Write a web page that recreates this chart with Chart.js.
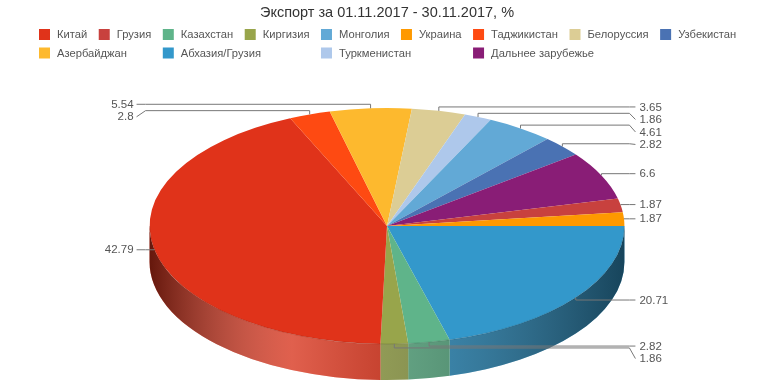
<!DOCTYPE html>
<html>
<head>
<meta charset="utf-8">
<script src="https://cdn.jsdelivr.net/npm/chart.js@4.4.1/dist/chart.umd.min.js"></script>
<style>
  html, body { margin: 0; padding: 0; background: #fff; }
</style>
</head>
<body>
<canvas id="pie" width="774" height="387"></canvas>
<script>
// ── data (legend order) ─────────────────────────────────────────
const countries = ['Китай', 'Грузия', 'Казахстан', 'Киргизия', 'Монголия', 'Украина',
                   'Таджикистан', 'Белоруссия', 'Узбекистан', 'Азербайджан',
                   'Абхазия/Грузия', 'Туркменистан', 'Дальнее зарубежье'];
const shares    = [42.79, 1.87, 2.82, 1.86, 4.61, 1.87, 2.8, 3.65, 2.82, 5.54, 20.71, 1.86, 6.6];
const colors    = ['#e0331a', '#c8413e', '#5fb48a', '#98a54b', '#62a9d6', '#fe9900',
                   '#fe4a12', '#dccd95', '#4a72b3', '#fdb92e', '#3398cb', '#aec8eb', '#891d76'];

// slices clockwise starting at 3 o'clock
const sliceOrder = ['Абхазия/Грузия', 'Казахстан', 'Киргизия', 'Китай', 'Таджикистан',
                    'Азербайджан', 'Белоруссия', 'Туркменистан', 'Монголия', 'Узбекистан',
                    'Дальнее зарубежье', 'Грузия', 'Украина'];

const idx         = sliceOrder.map(n => countries.indexOf(n));
const sliceData   = idx.map(i => shares[i]);
const sliceColors = idx.map(i => colors[i]);

const FONT  = '"Liberation Sans", Arial, sans-serif';
const TILT  = 0.497;   // ry / rx of the top face
const DEPTH = 36;      // height of the side wall

// ══════════════════════════════════════════════════════════════════
//  3D look: side walls + flattened top face + value labels
// ══════════════════════════════════════════════════════════════════
const pie3d = {
  id: 'pie3d',
  beforeDatasetsDraw(chart) {
    const arcs = chart.getDatasetMeta(0).data;
    const { x, y, outerRadius: r } = arcs[0];
    const rx = r / TILT, ry = r;
    const c = chart.ctx;

    const g = c.createLinearGradient(x - rx, 0, x + rx, 0);
    g.addColorStop(0,    'rgba(0,0,0,0.55)');
    g.addColorStop(0.3,  'rgba(224,224,224,0.26)');
    g.addColorStop(0.48, 'rgba(123,123,123,0.24)');
    g.addColorStop(0.63, 'rgba(75,75,75,0.29)');
    g.addColorStop(1,    'rgba(0,0,0,0.55)');

    arcs.forEach((a, i) => {
      const s = Math.max(a.startAngle, 0);
      const e = Math.min(a.endAngle, Math.PI);
      if (e <= s) return;
      c.beginPath();
      c.ellipse(x, y, rx, ry, 0, s, e);
      c.ellipse(x, y + DEPTH, rx, ry, 0, e, s, true);
      c.closePath();
      c.fillStyle = sliceColors[i];
      c.fill();
      c.fillStyle = g;
      c.fill();
    });

    c.save();
    c.translate(x, y);
    c.scale(1 / TILT, 1);
    c.translate(-x, -y);
  },
  afterDatasetsDraw(chart) {
    const c = chart.ctx;
    c.restore();

    const arcs = chart.getDatasetMeta(0).data;
    const { x, y, outerRadius: r } = arcs[0];
    const rx = r / TILT, ry = r;

    // front rim
    c.beginPath();
    c.ellipse(x, y, rx, ry, 0, 0, Math.PI);
    c.strokeStyle = 'rgba(0,0,0,0.12)';
    c.lineWidth = 1;
    c.stroke();

    // labels
    const colR = x + rx + 15, colL = x - rx - 16;
    const items = arcs.map((a, i) => {
      const mid = (a.startAngle + a.endAngle) / 2;
      const cos = Math.cos(mid), sin = Math.sin(mid);
      const ax = x + rx * cos, ay = y + ry * sin;
      const ty = ay + 4 * sin;
      return { ax, ay, ty, ly: ty, right: cos >= 0, text: String(sliceData[i]) };
    });
    [true, false].forEach(side => {
      const list = items.filter(it => it.right === side).sort((p, q) => p.ty - q.ty);
      let prev = -Infinity;
      list.forEach(it => { it.ly = Math.max(it.ty, prev + 12.5); prev = it.ly; });
    });

    c.strokeStyle = '#777';
    c.fillStyle = '#555';
    c.font = '11.5px ' + FONT;
    c.textBaseline = 'middle';
    items.forEach(it => {
      c.beginPath();
      c.moveTo(it.ax, it.ay);
      c.lineTo(it.ax, it.ty);
      if (it.right) {
        c.lineTo(colR - 10, it.ty);
        c.lineTo(colR - 4, it.ly);
      } else {
        c.lineTo(colL + 12, it.ty);
        c.lineTo(colL + 3, it.ly);
      }
      c.stroke();
      c.textAlign = it.right ? 'left' : 'right';
      c.fillText(it.text, it.right ? colR : colL, it.ly + 0.5);
    });
  }
};

// ══════════════════════════════════════════════════════════════════
//  Legend: first row flows, next rows snap to the first row's columns
// ══════════════════════════════════════════════════════════════════
const gridLegend = {
  id: 'gridLegend',
  afterDraw(chart) {
    const c = chart.ctx;
    c.save();
    c.font = '11.2px ' + FONT;
    c.textBaseline = 'middle';
    c.textAlign = 'left';
    const left = 39, box = 11, gap = 7, pad = 11.5, rowY = [34.5, 53];
    const cols = [];
    let xPos = left, row = 0;
    countries.forEach((name, i) => {
      const w = box + gap + c.measureText(name).width;
      if (row === 0 && xPos + w > chart.width - 20) { row = 1; xPos = left; }
      if (row === 0) cols.push(xPos);
      else xPos = cols.find(cx => cx >= xPos) ?? xPos;
      const yc = rowY[row];
      c.fillStyle = colors[i];
      c.fillRect(xPos, yc - box / 2, box, box);
      c.fillStyle = '#555';
      c.fillText(name, xPos + box + gap, yc + 0.5);
      xPos += w + pad;
    });
    c.restore();
  }
};

new Chart(document.getElementById('pie'), {
  type: 'pie',
  data: {
    labels: sliceOrder,
    datasets: [{
      data: sliceData,
      backgroundColor: sliceColors,
      borderWidth: 0,
    }]
  },
  options: {
    responsive: false,
    devicePixelRatio: 1,
    animation: false,
    rotation: 90,
    layout: { padding: { bottom: 43 } },
    plugins: {
      legend: { display: false },
      tooltip: { enabled: false },
      title: {
        display: true,
        text: 'Экспорт за 01.11.2017 - 30.11.2017, %',
        color: '#333',
        font: { family: FONT, size: 14.5, weight: 'normal', lineHeight: 1.2 },
        padding: { top: 4, bottom: 86.6 }
      }
    }
  },
  plugins: [pie3d, gridLegend]
});
</script>
</body>
</html>
